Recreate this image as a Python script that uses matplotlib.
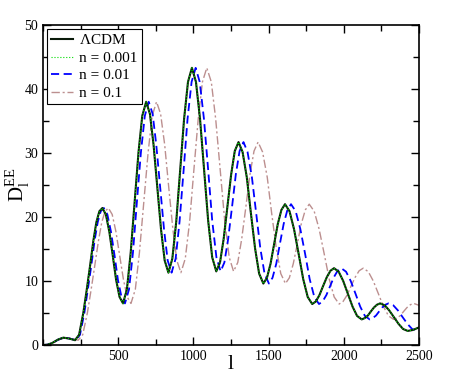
import numpy as np
import matplotlib.pyplot as plt
from matplotlib.ticker import MultipleLocator

plt.rcParams['font.family'] = 'Liberation Serif'
plt.rcParams['mathtext.fontset'] = 'custom'
plt.rcParams['mathtext.rm'] = 'Liberation Serif'

# multipole l for LCDM (n = 0.001 sits on top of it)
l_lcdm = [0, 30, 60, 100, 135, 175, 213, 240, 268, 290, 312, 335, 355, 375, 395,
          418, 441, 464, 486, 509, 532, 558, 583, 609, 635, 660, 686,
          711, 735, 760, 785, 809, 834, 860, 886, 912, 938, 964, 990,
          1017, 1044, 1071, 1098, 1125, 1152, 1177, 1201, 1226, 1251, 1275, 1300,
          1327, 1355, 1382, 1410, 1437, 1465, 1489, 1513, 1537, 1561, 1585, 1609,
          1639, 1669, 1700, 1730, 1760, 1790, 1814, 1838, 1862, 1887, 1911, 1935,
          1966, 1996, 2027, 2058, 2088, 2119, 2139, 2160, 2180, 2200, 2221, 2241,
          2272, 2302, 2333, 2364, 2394, 2425, 2460, 2500]
l_n001 = [0, 31, 62, 102, 138, 179, 218, 246, 275, 297, 320, 343, 364, 384, 405,
          428, 452, 476, 498, 522, 545, 572, 598, 624, 651, 677, 703,
          729, 753, 779, 805, 829, 855, 882, 908, 935, 961, 988, 1015,
          1042, 1070, 1098, 1125, 1153, 1181, 1206, 1231, 1257, 1282, 1307, 1333,
          1360, 1389, 1417, 1445, 1473, 1502, 1526, 1551, 1575, 1600, 1625, 1649,
          1680, 1711, 1743, 1773, 1804, 1835, 1859, 1884, 1909, 1934, 1959, 1983,
          2015, 2046, 2078, 2109, 2140, 2172, 2192, 2214, 2235, 2255, 2277, 2297,
          2329, 2360, 2391, 2423, 2454, 2486, 2522, 2563]
# n = 0.1 line
l_n01 = [0, 33, 66, 110, 149, 193, 234, 264, 295, 319, 343, 369, 391, 413, 435,
         460, 485, 510, 535, 560, 585, 614, 641, 670, 699, 726, 755,
         782, 809, 836, 864, 890, 917, 946, 975, 1003, 1032, 1060, 1089,
         1119, 1148, 1178, 1208, 1238, 1267, 1295, 1321, 1349, 1376, 1403, 1430,
         1460, 1491, 1520, 1551, 1581, 1612, 1638, 1664, 1691, 1717, 1744, 1770,
         1803, 1836, 1870, 1903, 1936, 1969, 1995, 2022, 2048, 2076, 2102, 2129,
         2163, 2196, 2230, 2264, 2297, 2331, 2353, 2376, 2398, 2420, 2443, 2465,
         2499, 2532, 2566, 2600, 2633, 2668, 2706, 2750]

# D_l^EE values (peak heights are the same for all curves)
d_ee = [0.0, 0.05, 0.3, 0.85, 1.15, 1.0, 0.75, 1.6, 5.0, 8.5, 12.2, 16.3, 19.2, 20.9, 21.4,
        20.4, 17.7, 13.95, 10.2, 7.5, 6.5, 8.7, 14.4, 22.25, 30.1, 35.8, 38.0,
        36.1, 31.3, 24.65, 18.0, 13.2, 11.3, 13.5, 19.3, 27.3, 35.3, 41.1, 43.3,
        41.1, 35.35, 27.4, 19.45, 13.7, 11.5, 12.9, 16.55, 21.6, 26.65, 30.3, 31.7,
        30.15, 26.2, 20.65, 15.1, 11.15, 9.6, 10.5, 12.7, 15.8, 18.9, 21.1, 22.0,
        20.9, 18.1, 14.2, 10.3, 7.5, 6.4, 6.8, 7.8, 9.2, 10.6, 11.6, 12.0,
        11.45, 10.0, 8.0, 6.0, 4.55, 4.0, 4.2, 4.6, 5.25, 5.85, 6.3, 6.5,
        6.2, 5.4, 4.35, 3.3, 2.5, 2.2, 2.35, 2.75]

fig = plt.figure(figsize=(4.74, 3.78), dpi=100)
ax = fig.add_axes([0.0907, 0.0873, 0.7933, 0.8467])

ax.plot(l_n01, d_ee, color='#bc8f8f', lw=1.0, dashes=(6, 2, 1.5, 2), label='n = 0.1')
ax.plot(l_n001, d_ee, color='#0000ff', lw=1.3, dashes=(4.5, 2.5), label='n = 0.01')
ax.plot(l_lcdm, d_ee, color='#0a1a0a', lw=1.5, label=r'$\Lambda$CDM')
ax.plot(l_lcdm, d_ee, color='#00dd00', lw=0.8, ls=':', label='n = 0.001')

ax.set_xlim(0, 2500)
ax.set_ylim(0, 50)
ax.xaxis.set_major_locator(MultipleLocator(500))
ax.xaxis.set_minor_locator(MultipleLocator(250))
ax.yaxis.set_major_locator(MultipleLocator(10))
ax.yaxis.set_minor_locator(MultipleLocator(5))
ax.set_xticks([500, 1000, 1500, 2000, 2500])
ax.tick_params(which='both', direction='in', top=True, right=True, labelsize=10, width=1)
ax.tick_params(which='major', length=6)
ax.tick_params(which='minor', length=4)
for s in ax.spines.values():
    s.set_linewidth(1.2)

ax.set_xlabel('l', fontsize=16)
ax.xaxis.set_label_coords(0.5, -0.03)
ax.set_ylabel(r'$\mathrm{D}_\mathrm{l}^\mathrm{EE}$', fontsize=15)
ax.yaxis.set_label_coords(-0.03, 0.5)

h, lab = ax.get_legend_handles_labels()
order = [2, 3, 1, 0]
leg = ax.legend([h[i] for i in order], [lab[i] for i in order], loc='upper left',
                fontsize=11, handlelength=1.4, handletextpad=0.4, borderpad=0.3,
                labelspacing=0.25, fancybox=False, framealpha=1, borderaxespad=0.25)
leg.get_frame().set_edgecolor('black')
leg.get_frame().set_linewidth(0.8)

fig.savefig('out.png', dpi=100)
